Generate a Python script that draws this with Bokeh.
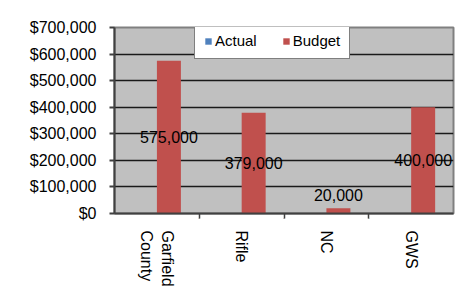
import math
from bokeh.plotting import figure
from bokeh.models import (ColumnDataSource, FactorRange, Range1d, FixedTicker,
                          NumeralTickFormatter, Legend, LegendItem, CategoricalAxis)
from bokeh.transform import dodge
from bokeh.core.properties import value
from bokeh.embed import file_html
from bokeh.resources import INLINE

categories = ["Garfield\nCounty", "Rifle", "NC", "GWS"]
actual = [0, 0, 0, 0]
budget = [575000, 379000, 20000, 400000]
budget_labels = ["575,000", "379,000", "20,000", "400,000"]
y_ticks = [0, 100000, 200000, 300000, 400000, 500000, 600000, 700000]

FONT = "Liberation Sans"

label_y = [v / 2 if v / 2 > 60000 else v + 48000 for v in budget]
src = ColumnDataSource(dict(cat=categories, actual=actual, budget=budget,
                            lab=budget_labels, label_y=label_y))

p = figure(width=470, height=289, output_backend="svg", toolbar_location=None,
           x_range=FactorRange(*categories), y_range=Range1d(0, 700000),
           min_border_left=114, min_border_right=17, min_border_top=27, min_border_bottom=76,
           x_axis_location=None)
p.background_fill_color = "#C0C0C0"
p.border_fill_color = "white"
p.outline_line_color = "#808080"
p.outline_line_width = 2

bw = 0.283
r_act = p.vbar(x=dodge("cat", -0.142, range=p.x_range), top="actual", width=bw, source=src,
               fill_color="#4F81BD", line_color=None)
r_bud = p.vbar(x=dodge("cat", 0.142, range=p.x_range), top="budget", width=bw, source=src,
               fill_color="#C0504D", line_color=None)

p.text(x=dodge("cat", 0.142, range=p.x_range), y="label_y", text="lab", source=src,
       text_align="center", text_baseline="middle", text_font=value(FONT),
       text_font_size="16px", text_color="black")

# y axis
p.yaxis.ticker = FixedTicker(ticks=y_ticks)
p.yaxis.formatter = NumeralTickFormatter(format="$0,0")
p.yaxis.major_label_text_font = FONT
p.yaxis.major_label_text_font_size = "16px"
p.yaxis.major_label_text_color = "black"
p.yaxis.axis_line_color = "#404040"
p.yaxis.axis_line_width = 2
p.yaxis.major_tick_line_color = "#404040"
p.yaxis.major_tick_line_width = 2
p.yaxis.major_tick_out = 5
p.yaxis.major_tick_in = 0
p.yaxis.minor_tick_line_color = None
p.yaxis.major_label_standoff = 13

p.xgrid.grid_line_color = None
p.ygrid.ticker = FixedTicker(ticks=y_ticks[1:-1])
p.ygrid.grid_line_color = "#1a1a1a"
p.ygrid.grid_line_width = 1.5

# tick marks at category boundaries: a categorical range whose factor centres
# fall on the boundaries of the main categories
bounds = ["b%d" % i for i in range(len(categories) + 1)]
p.extra_x_ranges = {"bounds": FactorRange(*bounds, range_padding=-1.0 / len(bounds),
                                          range_padding_units="percent")}
tick_axis = CategoricalAxis(x_range_name="bounds",
                            major_label_overrides={b: "" for b in bounds},
                            major_label_text_font_size="1px", major_label_standoff=0,
                            axis_line_color="#404040", axis_line_width=2,
                            major_tick_line_color="#404040", major_tick_line_width=1.5,
                            major_tick_out=5, major_tick_in=0, minor_tick_line_color=None)
p.add_layout(tick_axis, "below")

cat_axis = CategoricalAxis(axis_line_color=None, major_tick_line_color=None,
                           minor_tick_line_color=None,
                           major_label_orientation=-math.pi / 2,
                           major_label_text_font=FONT, major_label_text_font_size="16px",
                           major_label_text_color="black", major_label_standoff=2)
p.add_layout(cat_axis, "below")

legend = Legend(items=[LegendItem(label="Actual", renderers=[r_act]),
                       LegendItem(label="Budget", renderers=[r_bud])],
                orientation="horizontal", location=(80, 154),
                glyph_width=8, glyph_height=8, label_standoff=3, spacing=25,
                padding=9, margin=0, border_line_color="black", border_line_width=1,
                background_fill_color="white", background_fill_alpha=1,
                label_text_font=FONT, label_text_font_size="15px",
                label_text_color="black", label_height=10)
p.add_layout(legend, "center")

open("out.html", "w").write(file_html(p, INLINE))
